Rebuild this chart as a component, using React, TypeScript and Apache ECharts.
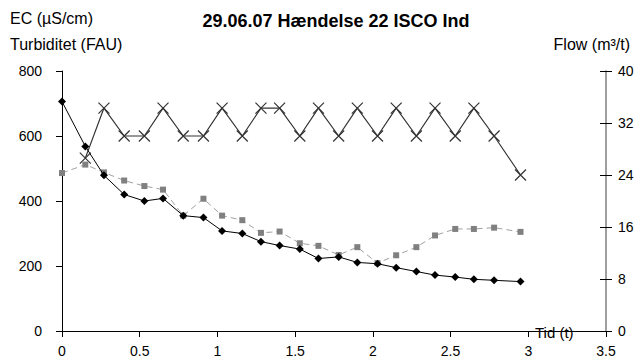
import React, { useEffect, useRef } from "react";
import * as echarts from "echarts";

const times = [0, 0.15, 0.27, 0.4, 0.53, 0.65, 0.78, 0.91, 1.03, 1.16, 1.28, 1.4, 1.53, 1.65, 1.78, 1.9, 2.03, 2.15, 2.28, 2.4, 2.53, 2.65, 2.78, 2.95];
const ec = [706, 568, 479, 420, 400, 408, 355, 349, 308, 300, 275, 263, 252, 223, 228, 211, 207, 195, 183, 172, 166, 159, 156, 152];
const turbidity = [486, 512, 488, 463, 446, 435, 355, 407, 355, 341, 302, 306, 270, 262, 234, 258, 209, 233, 258, 294, 314, 314, 318, 305];
const flow = [null, 26.6, 34.3, 30, 30, 34.3, 30, 30, 34.3, 30, 34.3, 34.3, 30, 34.3, 30, 34.3, 30, 34.3, 30, 34.3, 30, 34.3, 30, 24];

const leftTicks = { min: 0, max: 800, interval: 200 };
const rightTicks = { min: 0, max: 40, interval: 8 };
const xTicks = { min: 0, max: 3.5, interval: 0.5 };

const FONT = "'Liberation Sans', Arial, sans-serif";

export default function App() {
  const ref = useRef<HTMLDivElement>(null);
  useEffect(() => {
    if (!ref.current) return;
    const chart = echarts.init(ref.current, null, { renderer: "svg" });
    const pair = (vals: (number | null)[]) =>
      times.map((t, i) => (vals[i] == null ? null : [t, vals[i]])).filter((d) => d !== null);
    chart.setOption({
      animation: false,
      backgroundColor: "#fff",
      title: {
        text: "29.06.07 Hændelse 22 ISCO Ind",
        left: 331,
        textAlign: "center",
        top: 7,
        textStyle: { fontFamily: FONT, fontSize: 18, fontWeight: "bold", color: "#000" },
      },
      graphic: [
        { type: "text", left: 10, top: 10, style: { text: "EC (µS/cm)", font: `16px ${FONT}`, fill: "#000" } },
        { type: "text", left: 10, top: 36, style: { text: "Turbiditet (FAU)", font: `16px ${FONT}`, fill: "#000" } },
        { type: "text", right: 14, top: 36, style: { text: "Flow (m³/t)", font: `16px ${FONT}`, fill: "#000" } },
        { type: "text", left: 535, top: 325, style: { text: "Tid (t)", font: `15px ${FONT}`, fill: "#000" } },
      ],
      grid: { left: 62, right: 38, top: 71, bottom: 29, containLabel: false },
      xAxis: {
        type: "value",
        ...xTicks,
        axisLine: { lineStyle: { color: "#000", width: 1 } },
        axisTick: { show: true, length: 6, lineStyle: { color: "#000" } },
        axisLabel: { color: "#000", fontFamily: FONT, fontSize: 14, margin: 13 },
        splitLine: { show: false },
      },
      yAxis: [
        {
          type: "value",
          ...leftTicks,
          position: "left",
          axisLine: { show: true, lineStyle: { color: "#000", width: 1 } },
          axisTick: { show: true, length: 6, lineStyle: { color: "#000" } },
          axisLabel: { color: "#000", fontFamily: FONT, fontSize: 14, margin: 20 },
          splitLine: { show: false },
        },
        {
          type: "value",
          ...rightTicks,
          position: "right",
          axisLine: { show: true, lineStyle: { color: "#808080", width: 1.5 } },
          axisTick: { show: true, length: 6, lineStyle: { color: "#000" } },
          axisLabel: { color: "#000", fontFamily: FONT, fontSize: 14, margin: 12 },
          splitLine: { show: false },
        },
        {
          type: "value",
          ...rightTicks,
          position: "right",
          axisLine: { show: false },
          axisTick: { show: true, inside: true, length: 6, lineStyle: { color: "#000" } },
          axisLabel: { show: false },
          splitLine: { show: false },
        },
      ],
      series: [
        {
          name: "Flow",
          type: "line",
          yAxisIndex: 1,
          data: pair(flow),
          symbol: "path://M0,0L10,10M10,0L0,10",
          symbolSize: 11,
          lineStyle: { color: "#333", width: 1.2 },
          itemStyle: { color: "none", borderColor: "#333", borderWidth: 1.2 },
          z: 2,
        },
        {
          name: "Turbiditet",
          type: "line",
          yAxisIndex: 0,
          data: pair(turbidity),
          symbol: "rect",
          symbolSize: 6,
          lineStyle: { color: "#a0a0a0", width: 1, type: [6, 4] },
          itemStyle: { color: "#808080" },
          z: 3,
        },
        {
          name: "EC",
          type: "line",
          yAxisIndex: 0,
          data: pair(ec),
          symbol: "diamond",
          symbolSize: 8,
          lineStyle: { color: "#000", width: 1 },
          itemStyle: { color: "#000" },
          z: 4,
        },
      ],
    });
    return () => chart.dispose();
  }, []);
  return <div ref={ref} style={{ position: "absolute", left: 0, top: 0, width: 644, height: 360 }} />;
}
